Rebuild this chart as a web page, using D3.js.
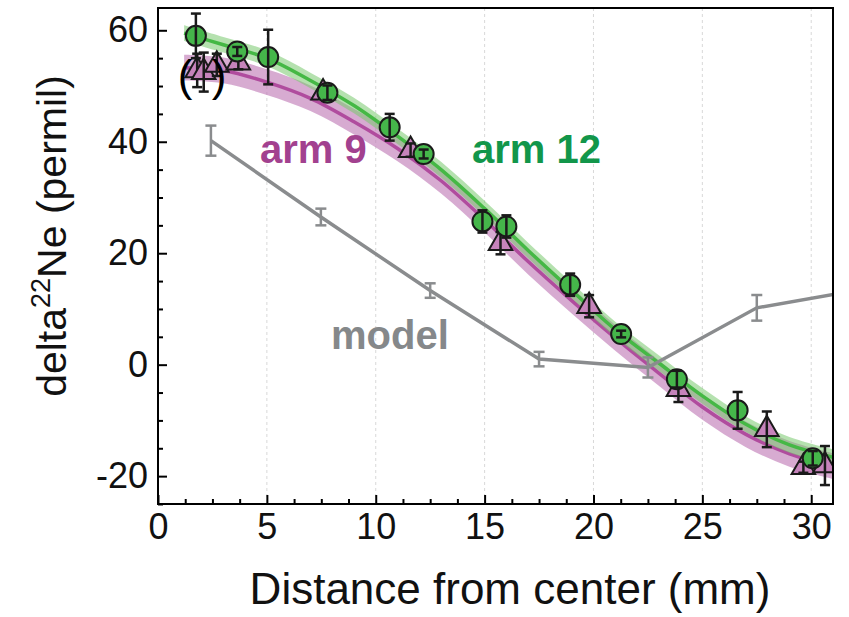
<!DOCTYPE html>
<html>
<head>
<meta charset="utf-8">
<script src="https://cdn.jsdelivr.net/npm/d3@7"></script>
<style>
  body { margin: 0; background: #fff; }
  .tickLabel { font-family: "Liberation Sans", Arial, sans-serif; }
</style>
</head>
<body>
<div id="chart"></div>
<script>
// data
var arm12X   = [1.74, 3.64, 5.06, 7.78, 10.64, 12.2, 14.9, 16.0, 18.93, 21.27, 23.83, 26.62, 30.07];
var arm12Y   = [59.0, 56.2, 55.2, 48.8, 42.6, 37.8, 25.7, 24.8, 14.35, 5.5, -2.6, -8.2, -16.8];
var arm12Err = [4.0, 0.8, 4.9, 1.3, 2.4, 0.8, 2.0, 2.0, 2.0, 0.6, 1.5, 3.3, 1.3];

var arm9X   = [1.8, 2.1, 2.7, 3.69, 7.58, 11.6, 15.73, 19.8, 23.9, 27.96, 29.64, 30.63];
var arm9Y   = [52.8, 52.5, 53.8, 54.2, 48.8, 38.5, 21.8, 10.5, -4.4, -11.6, -18.4, -18.1];
var arm9Err = [3.0, 3.5, 2.0, 1.2, 1.0, 1.2, 2.0, 2.0, 2.3, 3.2, 1.0, 3.5];

var modelX   = [2.43, 7.48, 12.5, 17.5, 22.5, 27.5, 32.5];
var modelY   = [40.2, 26.5, 13.3, 1.0, -0.5, 10.2, 13.6];
var modelErr = [2.7, 1.5, 1.3, 1.3, 1.8, 2.3, null];

// fitted curves (centre line) and band half widths
var fitX      = [1.2, 3, 5, 7, 9, 11, 13, 15, 17, 19, 21, 23, 25, 27, 29, 31];
var fit12Y    = [59.5, 57.4, 55.0, 51.0, 46.5, 41.0, 35.0, 28.0, 20.5, 13.3, 6.3, 0.3, -5.6, -10.7, -14.4, -16.6];
var fit9Y     = [53.3, 52.8, 50.7, 47.8, 43.6, 38.8, 33.0, 26.0, 18.5, 11.5, 4.8, -1.5, -7.6, -12.5, -16.0, -18.2];
var band12    = 1.4;
var band9     = 2.3;

var xTicks = [0, 5, 10, 15, 20, 25, 30];
var yTicks = [-20, 0, 20, 40, 60];

var svgWidth = 849;
var svgHeight = 617;
var margin = { top: 8, right: 16, bottom: 113, left: 158 };
var width = svgWidth - margin.left - margin.right;
var height = svgHeight - margin.top - margin.bottom;

var svg = d3.select("#chart")
    .append("svg")
    .attr("width", svgWidth)
    .attr("height", svgHeight);

var g = svg.append("g")
    .attr("transform", `translate(${margin.left}, ${margin.top})`);

var x = d3.scaleLinear().domain([0, 31]).range([0, width]);
var y = d3.scaleLinear().domain([-25, 64]).range([height, 0]);

svg.append("defs").append("clipPath")
    .attr("id", "plotClip")
    .append("rect")
    .attr("width", width)
    .attr("height", height);

// vertical dotted grid
g.selectAll(".grid")
    .data(xTicks.filter(d => d > 0))
    .enter()
    .append("line")
    .attr("x1", d => x(d))
    .attr("x2", d => x(d))
    .attr("y1", 0)
    .attr("y2", height)
    .attr("stroke", "#d8d8d8")
    .attr("stroke-width", 1)
    .attr("stroke-dasharray", "3,3");

var plot = g.append("g").attr("clip-path", "url(#plotClip)");

// bands + lines
function drawFit(ys, half, bandColor, lineColor) {
    var pts = fitX.map((d, i) => [d, ys[i]]);
    var area = d3.area()
        .x(d => x(d[0]))
        .y0(d => y(d[1] - half))
        .y1(d => y(d[1] + half))
        .curve(d3.curveCatmullRom);
    var line = d3.line()
        .x(d => x(d[0]))
        .y(d => y(d[1]))
        .curve(d3.curveCatmullRom);
    plot.append("path").attr("d", area(pts)).attr("fill", bandColor);
    plot.append("path").attr("d", line(pts))
        .attr("fill", "none")
        .attr("stroke", lineColor)
        .attr("stroke-width", 3.5);
}
drawFit(fit9Y, band9, "rgba(190,120,180,0.62)", "#b04c9e");
drawFit(fit12Y, band12, "rgba(120,200,110,0.55)", "#45b845");

// model line
var modelPts = modelX.map((d, i) => ({ x: d, y: modelY[i], e: modelErr[i] }));
plot.append("path")
    .attr("d", d3.line().x(d => x(d.x)).y(d => y(d.y))(modelPts))
    .attr("fill", "none")
    .attr("stroke", "#8a8c8e")
    .attr("stroke-width", 3.5);

function errorBars(sel, data, color, cap) {
    var eb = sel.selectAll(null)
        .data(data.filter(d => d.e != null))
        .enter()
        .append("g")
        .attr("stroke", color)
        .attr("stroke-width", 2.5);
    eb.append("line")
        .attr("x1", d => x(d.x)).attr("x2", d => x(d.x))
        .attr("y1", d => y(d.y - d.e)).attr("y2", d => y(d.y + d.e));
    eb.append("line")
        .attr("x1", d => x(d.x) - cap).attr("x2", d => x(d.x) + cap)
        .attr("y1", d => y(d.y + d.e)).attr("y2", d => y(d.y + d.e));
    eb.append("line")
        .attr("x1", d => x(d.x) - cap).attr("x2", d => x(d.x) + cap)
        .attr("y1", d => y(d.y - d.e)).attr("y2", d => y(d.y - d.e));
}
errorBars(plot, modelPts, "#8a8c8e", 5.5);

// arm 9 triangles
var arm9 = arm9X.map((d, i) => ({ x: d, y: arm9Y[i], e: arm9Err[i] }));
var tri = d3.symbol().type(d3.symbolTriangle).size(240);
arm9.forEach(function(d) {
    var m = plot.append("g");
    m.append("path")
        .attr("d", tri())
        .attr("transform", `translate(${x(d.x)}, ${y(d.y)})`)
        .attr("fill", "#c683bb")
        .attr("stroke", "#1a1a1a")
        .attr("stroke-width", 2);
    errorBars(m, [d], "#1a1a1a", 5);
});

// arm 12 circles
var arm12 = arm12X.map((d, i) => ({ x: d, y: arm12Y[i], e: arm12Err[i] }));
arm12.forEach(function(d) {
    var m = plot.append("g");
    m.append("circle")
        .attr("cx", x(d.x))
        .attr("cy", y(d.y))
        .attr("r", 10)
        .attr("fill", "#45b64a")
        .attr("stroke", "#1a1a1a")
        .attr("stroke-width", 2);
    errorBars(m, [d], "#1a1a1a", 5);
});

// brackets round the first arm 9 points
g.append("text").attr("x", 185 - margin.left).attr("y", 91 - margin.top)
    .attr("font-family", "Liberation Sans, Arial, sans-serif")
    .attr("font-size", 44).attr("text-anchor", "middle").text("(");
g.append("text").attr("x", 219 - margin.left).attr("y", 91 - margin.top)
    .attr("font-family", "Liberation Sans, Arial, sans-serif")
    .attr("font-size", 44).attr("text-anchor", "middle").text(")");

// frame
g.append("rect")
    .attr("width", width)
    .attr("height", height)
    .attr("fill", "none")
    .attr("stroke", "#000")
    .attr("stroke-width", 2);

// axes with inward ticks
var xMinor = d3.range(0, 31.01, 1.25).filter(d => xTicks.indexOf(d) < 0);
var yMinor = d3.range(-25, 64, 5).filter(d => yTicks.indexOf(d) < 0);

g.append("g")
    .attr("transform", `translate(0, ${height})`)
    .call(d3.axisBottom(x).tickValues(xTicks).tickSizeInner(-9).tickSizeOuter(0).tickPadding(9).tickFormat(d => String(d)))
    .call(a => a.select(".domain").remove())
    .call(a => a.selectAll("line").attr("stroke-width", 2))
    .call(a => a.selectAll("text").attr("class", "tickLabel").attr("font-size", 36).attr("fill", "#111"));
g.append("g")
    .attr("transform", `translate(0, ${height})`)
    .call(d3.axisBottom(x).tickValues(xMinor).tickSizeInner(-5).tickSizeOuter(0).tickFormat(""))
    .call(a => a.select(".domain").remove())
    .call(a => a.selectAll("line").attr("stroke-width", 2));

g.append("g")
    .call(d3.axisLeft(y).tickValues(yTicks).tickSizeInner(-9).tickSizeOuter(0).tickPadding(10).tickFormat(d => String(d)))
    .call(a => a.select(".domain").remove())
    .call(a => a.selectAll("line").attr("stroke-width", 2))
    .call(a => a.selectAll("text").attr("class", "tickLabel").attr("font-size", 36).attr("fill", "#111"));
g.append("g")
    .call(d3.axisLeft(y).tickValues(yMinor).tickSizeInner(-5).tickSizeOuter(0).tickFormat(""))
    .call(a => a.select(".domain").remove())
    .call(a => a.selectAll("line").attr("stroke-width", 2));

// series labels
g.append("text").attr("x", 260 - margin.left).attr("y", 163 - margin.top)
    .attr("font-family", "Liberation Sans, Arial, sans-serif").attr("font-weight", "bold")
    .attr("font-size", 40).attr("fill", "#a2418f").text("arm 9");
g.append("text").attr("x", 472 - margin.left).attr("y", 163 - margin.top)
    .attr("font-family", "Liberation Sans, Arial, sans-serif").attr("font-weight", "bold")
    .attr("font-size", 40).attr("fill", "#12964a").text("arm 12");
g.append("text").attr("x", 331 - margin.left).attr("y", 349 - margin.top)
    .attr("font-family", "Liberation Sans, Arial, sans-serif").attr("font-weight", "bold")
    .attr("font-size", 40).attr("fill", "#85888a").text("model");

// axis titles
svg.append("text")
    .attr("x", 510)
    .attr("y", 604)
    .attr("text-anchor", "middle")
    .attr("font-family", "Liberation Sans, Arial, sans-serif")
    .attr("font-size", 44)
    .attr("fill", "#111")
    .text("Distance from center (mm)");

var yTitle = svg.append("text")
    .attr("transform", "translate(66, 236) rotate(-90)")
    .attr("text-anchor", "middle")
    .attr("font-family", "Liberation Sans, Arial, sans-serif")
    .attr("font-size", 41)
    .attr("fill", "#111");
yTitle.append("tspan").text("delta");
yTitle.append("tspan").attr("font-size", 27).attr("dy", -16).text("22");
yTitle.append("tspan").attr("dy", 16).text("Ne (permil)");
</script>
</body>
</html>
